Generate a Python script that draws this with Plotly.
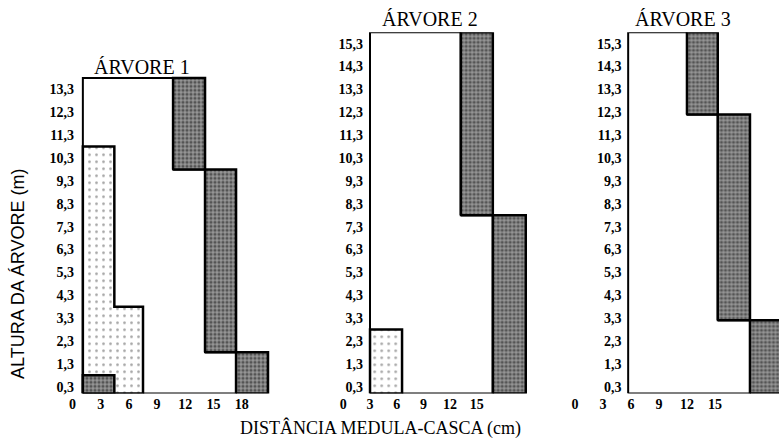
import plotly.graph_objects as go

# ---------------- data ----------------
TREE_NAMES = ["ÁRVORE 1", "ÁRVORE 2", "ÁRVORE 3"]
TREE_HEIGHT = [13.8, 15.8, 15.8]          # top of each stem (m)
PITH_X = [1.1, 3.0, 5.7]                  # left border (pith) position

# y tick labels (sampling heights)
Y_TICKS_1 = [0.3 + k for k in range(14)]
Y_TICKS_23 = [0.3 + k for k in range(16)]
X_TICKS_1 = [0, 3, 6, 9, 12, 15, 18]
X_TICKS_23 = [0, 3, 6, 9, 12, 15]

# light (stippled) zone: band boundaries (m) and outer radius per band
LIGHT_Y = [[0.0, 3.8, 10.8], [0.0, 2.8], []]
LIGHT_R = [[7.5, 4.45], [6.6], []]

# dark (speckled) zones: rectangles x0, x1, y0, y1
DARK_X0 = [[10.7, 14.1, 17.4, 1.1], [13.2, 16.8], [12.0, 15.3, 18.75]]
DARK_X1 = [[14.1, 17.4, 20.8, 4.45], [16.8, 20.5], [15.3, 18.75, 22.4]]
DARK_Y0 = [[9.8, 1.8, 0.0, 0.0], [7.8, 0.0], [12.2, 3.2, 0.0]]
DARK_Y1 = [[13.8, 9.8, 1.8, 0.8], [15.8, 7.8], [15.8, 12.2, 3.2]]

# ---------------- layout geometry ----------------
W, H = 779, 438
X_RANGES = [[-0.8, 21.3], [-0.8, 21.0], [-0.8, 21.86]]
X_DOMAINS = [[65.0 / W, 272.7 / W], [336.2 / W, 530.2 / W], [567.5 / W, 1.0]]
Y_POS = [74.0 / W, 363.0 / W, 621.5 / W]
Y_DOMAIN = [(H - 393.5) / H, (H - 32.3) / H]
Y_RANGE = [0, 15.8]

DARK_PATTERN = dict(shape=".", fgcolor="#111111", bgcolor="#969696", size=4, solidity=0.5)
LIGHT_PATTERN = dict(shape=".", fgcolor="#444444", bgcolor="#ffffff", size=7, solidity=0.12)

TICK_FONT = dict(family="Liberation Serif", size=14, color="black", weight="bold")

fig = go.Figure()


def rect(x0, x1, y0, y1):
    return [x0, x0, x1, x1, x0], [y0, y1, y1, y0, y0]


for i in range(3):
    xa = "x" if i == 0 else f"x{i + 1}"
    ya = "y" if i == 0 else f"y{i + 1}"
    top = TREE_HEIGHT[i]
    px = PITH_X[i]

    # white stem region: left border, top, staircase along inner edges of dark rectangles
    order = sorted(range(len(DARK_X0[i])), key=lambda k: -DARK_Y1[i][k])
    xs, ys = [px, px], [0.0, top]
    for k in order:
        if DARK_X0[i][k] <= px + 0.01:
            continue
        xs += [DARK_X0[i][k], DARK_X0[i][k]]
        ys += [DARK_Y1[i][k], DARK_Y0[i][k]]
    xs.append(px)
    ys.append(0.0)
    fig.add_trace(go.Scatter(x=xs, y=ys, mode="lines", fill="toself", fillcolor="white",
                             line=dict(color="black", width=2), xaxis=xa, yaxis=ya,
                             hoverinfo="skip", showlegend=False))

    # light zone as a staircase polygon (bands listed bottom-up)
    n = len(LIGHT_R[i])
    if n:
        bnd = LIGHT_Y[i]
        lx, ly = [px, px], [bnd[0], bnd[n]]
        for k in range(n - 1, -1, -1):
            lx += [LIGHT_R[i][k], LIGHT_R[i][k]]
            ly += [bnd[k + 1], bnd[k]]
        lx.append(px)
        ly.append(bnd[0])
        fig.add_trace(go.Scatter(x=lx, y=ly, mode="lines", fill="toself",
                                 fillcolor="white", fillpattern=LIGHT_PATTERN,
                                 line=dict(color="black", width=2.5), xaxis=xa, yaxis=ya,
                                 hoverinfo="skip", showlegend=False))

    # dark rectangles
    for k in range(len(DARK_X0[i])):
        rx, ry = rect(DARK_X0[i][k], DARK_X1[i][k], DARK_Y0[i][k], DARK_Y1[i][k])
        fig.add_trace(go.Scatter(x=rx, y=ry, mode="lines", fill="toself",
                                 fillcolor="#969696", fillpattern=DARK_PATTERN,
                                 line=dict(color="black", width=2.5), xaxis=xa, yaxis=ya,
                                 hoverinfo="skip", showlegend=False))

    yt = Y_TICKS_1 if i == 0 else Y_TICKS_23
    xt = X_TICKS_1 if i == 0 else X_TICKS_23
    xkey = "xaxis" if i == 0 else f"xaxis{i + 1}"
    ykey = "yaxis" if i == 0 else f"yaxis{i + 1}"
    fig.update_layout(**{
        xkey: dict(domain=X_DOMAINS[i], range=X_RANGES[i], anchor=ya,
                   tickvals=xt, ticktext=[str(v) for v in xt], showline=False,
                   showgrid=False, zeroline=False, ticks="", tickfont=TICK_FONT,
                   fixedrange=True),
        ykey: dict(domain=Y_DOMAIN, range=Y_RANGE, anchor="free", position=Y_POS[i],
                   tickvals=yt, ticktext=[f"{v:.1f}".replace(".", ",") for v in yt],
                   showline=False, showgrid=False, zeroline=False, ticks="",
                   tickfont=TICK_FONT, fixedrange=True),
    })

TITLE_POS = [(142 / W, (H - 67) / H), (429.5 / W, (H - 19) / H), (683 / W, (H - 19) / H)]
annotations = []
for i in range(3):
    annotations.append(dict(text=TREE_NAMES[i], x=TITLE_POS[i][0], y=TITLE_POS[i][1],
                            xref="paper", yref="paper", showarrow=False,
                            xanchor="center", yanchor="middle",
                            font=dict(family="Liberation Serif", size=20, color="black")))
annotations.append(dict(text="DISTÂNCIA MEDULA-CASCA (cm)", x=380 / W, y=(H - 428) / H,
                        xref="paper", yref="paper", showarrow=False,
                        xanchor="center", yanchor="middle",
                        font=dict(family="Liberation Serif", size=18, color="black")))
annotations.append(dict(text="ALTURA DA ÁRVORE (m)", x=18 / W, y=(H - 274) / H,
                        xref="paper", yref="paper", showarrow=False, textangle=-90,
                        xanchor="center", yanchor="middle",
                        font=dict(family="Liberation Sans", size=18, color="black")))

fig.update_layout(width=W, height=H, margin=dict(l=0, r=0, t=0, b=0),
                  paper_bgcolor="white", plot_bgcolor="white",
                  annotations=annotations, showlegend=False)

fig.write_html("out.html", config={"displayModeBar": False},
               post_script="document.body.style.margin='0px';")
